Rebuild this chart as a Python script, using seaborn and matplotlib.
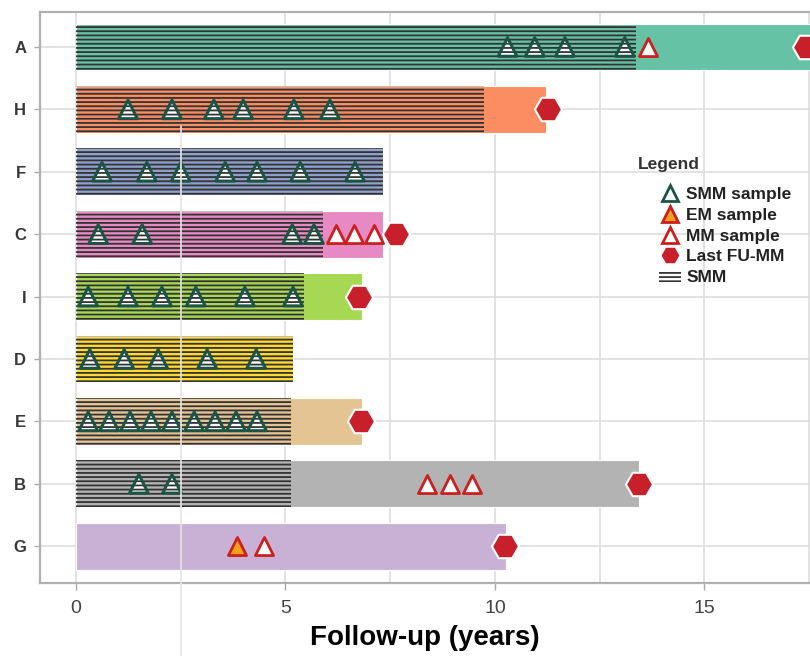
import matplotlib
matplotlib.use("Agg")
import matplotlib.pyplot as plt
from matplotlib.lines import Line2D
from matplotlib.patches import Patch
import seaborn as sns
import pandas as pd

# --- DATA ---
patients = ["A", "H", "F", "C", "I", "D", "E", "B", "G"]
followup_end = [17.6, 11.22, 7.33, 7.33, 6.83, 5.18, 6.83, 13.44, 10.26]
smm_end = [13.37, 9.74, 7.33, 5.9, 5.44, 5.18, 5.13, 5.13, 0.0]
bar_colors = ["#66c2a5", "#fc8d62", "#8da0cb", "#e78ac3", "#a6d854",
              "#ffd92f", "#e5c494", "#b3b3b3", "#c9b1d5"]

smm_samples = [
    [10.3, 10.95, 11.67, 13.1],
    [1.24, 2.29, 3.29, 3.99, 5.2, 6.06],
    [0.62, 1.69, 2.5, 3.56, 4.32, 5.35, 6.66],
    [0.53, 1.58, 5.16, 5.68],
    [0.29, 1.24, 2.05, 2.86, 4.03, 5.18],
    [0.33, 1.15, 1.96, 3.13, 4.3],
    [0.29, 0.79, 1.29, 1.79, 2.29, 2.82, 3.32, 3.82, 4.32],
    [1.5, 2.29],
    [],
]
em_samples = [[], [], [], [], [], [], [], [], [3.84]]
mm_samples = [[13.65], [], [], [6.2, 6.63, 7.11], [], [], [], [8.38, 8.93, 9.45], [4.49]]
last_fu_mm = [17.42, 11.26, None, 7.64, 6.75, None, 6.8, 13.44, 10.24]

SMM_GREEN = "#1b5444"
MM_RED = "#cc1f1f"
EM_ORANGE = "#f5a01a"
HEX_RED = "#c8202a"

sns.set_theme(style="whitegrid")
plt.rcParams["font.family"] = ["Liberation Sans", "DejaVu Sans"]
plt.rcParams["hatch.linewidth"] = 1.3
plt.rcParams["hatch.color"] = "#333333"


def long_points(series):
    rows = []
    for i, times in enumerate(series):
        for t in times:
            rows.append({"pos": i, "time": t})
    return pd.DataFrame(rows, columns=["pos", "time"])


fig = plt.figure(figsize=(8.1, 6.56), dpi=100)
ax = fig.add_axes([40 / 810, 73 / 656, 770 / 810, 571 / 656])
ax.set_axisbelow(True)

df_bars = pd.DataFrame({"patient": patients, "end": followup_end})
sns.barplot(data=df_bars, y="patient", x="end", hue="patient", palette=bar_colors,
            orient="h", width=0.75, legend=False, saturation=1,
            edgecolor="white", linewidth=0.8, ax=ax)

# triangles SMM : fond blanc sous les hachures, contour au-dessus
df_smm = long_points(smm_samples)
ax.scatter(df_smm["time"], df_smm["pos"], marker="^", s=180, facecolor="white",
           edgecolor="none", zorder=3)

# partie SMM hachuree
ax.barh(range(len(patients)), smm_end, height=0.75, color="none",
        edgecolor="#333333", hatch="----", linewidth=0, zorder=4)

ax.scatter(df_smm["time"], df_smm["pos"], marker="^", s=180, facecolor="none",
           edgecolor=SMM_GREEN, linewidths=2.2, zorder=5)

df_em = long_points(em_samples)
ax.scatter(df_em["time"], df_em["pos"], marker="^", s=170, facecolor=EM_ORANGE,
           edgecolor=MM_RED, linewidths=2, zorder=5)
df_mm = long_points(mm_samples)
ax.scatter(df_mm["time"], df_mm["pos"], marker="^", s=170, facecolor="white",
           edgecolor=MM_RED, linewidths=2, zorder=5)

df_last = pd.DataFrame({"pos": range(len(patients)), "time": last_fu_mm}).dropna()
ax.scatter(df_last["time"], df_last["pos"], marker="H", s=380, facecolor=HEX_RED,
           edgecolor="white", linewidths=1.5, zorder=6)

# axes
ax.set_xlim(-0.86, 17.52)
ax.set_ylim(8.59, -0.56)
ax.set_xticks([0, 5, 10, 15])
ax.set_xticks([7.5, 12.5, 17.5], minor=True)
ax.grid(True, which="both", axis="x", color="#dddddd", lw=1.2)
ax.grid(True, axis="y", color="#dddddd", lw=1.2)
ax.tick_params(axis="x", which="major", length=5, color="#aaaaaa", width=1,
               labelsize=14, labelcolor="#444444", pad=7, bottom=True)
ax.tick_params(axis="x", which="minor", length=0)
ax.tick_params(axis="y", length=4, color="#aaaaaa", width=1, pad=6, left=True)
for lab in ax.get_yticklabels():
    lab.set_fontweight("bold")
    lab.set_fontsize(12)
    lab.set_color("#383838")
ax.set_ylabel("")
ax.set_xlabel("Follow-up (years)", fontsize=20, fontweight="bold", color="black", labelpad=6)

for side in ["left", "top", "bottom"]:
    ax.spines[side].set_visible(True)
    ax.spines[side].set_color("#b0b0b0")
    ax.spines[side].set_linewidth(1.6)
ax.spines["right"].set_visible(False)

# trait clair vertical a 2.5 (present sur l'original)
ax.axvline(2.5, ymin=-0.128, ymax=0.80, clip_on=False, color="#e4e4e4", lw=1.2, zorder=10)

# legende
fig.text(638 / 810, 1 - 165 / 656, "Legend", fontsize=12.5, fontweight="bold",
         color="#333333", va="center", ha="left")
handles = [
    Line2D([], [], marker="^", ls="none", mfc="white", mec=SMM_GREEN, mew=2, ms=12),
    Line2D([], [], marker="^", ls="none", mfc=EM_ORANGE, mec=MM_RED, mew=2, ms=12),
    Line2D([], [], marker="^", ls="none", mfc="white", mec=MM_RED, mew=2, ms=12),
    Line2D([], [], marker="H", ls="none", mfc=HEX_RED, mec="white", mew=1, ms=14),
    Patch(facecolor="none", edgecolor="#333333", hatch="----", linewidth=0),
]
labels = ["SMM sample", "EM sample", "MM sample", "Last FU-MM", "SMM"]
leg = fig.legend(handles, labels, loc="upper left", bbox_to_anchor=(650 / 810, 1 - 178 / 656),
                 frameon=False, borderpad=0, handletextpad=0.3, labelspacing=0.33,
                 handlelength=1.3, prop={"weight": "bold", "size": 12.5})
for t in leg.get_texts():
    t.set_color("#222222")

fig.savefig("out.png", dpi=100)
